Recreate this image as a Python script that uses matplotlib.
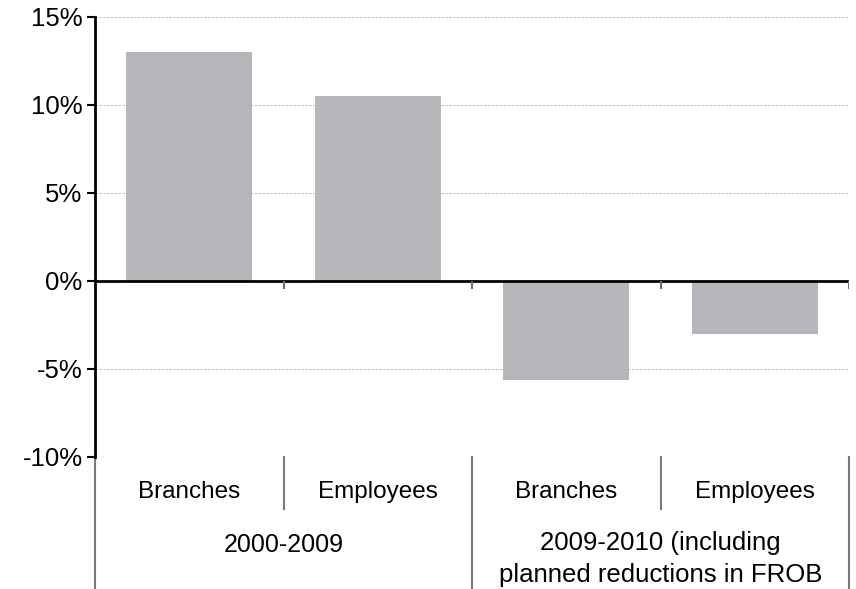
import numpy as np
import matplotlib
matplotlib.use('Agg')
import matplotlib.pyplot as plt
import matplotlib.transforms as mtransforms

plt.rcParams['font.family'] = ['Liberation Sans', 'DejaVu Sans']

# change in branches / employees
categories = ['Branches', 'Employees', 'Branches', 'Employees']
changes = [13.0, 10.5, -5.6, -3.0]
groups = ['2000-2009', '2009-2010 (including\nplanned reductions in FROB']
yticks = [-10, -5, 0, 5, 10, 15]

W, H = 856, 589
fig = plt.figure(figsize=(W / 100, H / 100), dpi=100)
ax = fig.add_axes([95 / W, 1 - 457 / H, (849 - 95) / W, (457 - 17) / H])

x = np.arange(len(categories))
ax.bar(x, changes, width=0.67, color='#b5b6b9', zorder=2)
ax.set_xlim(-0.5, len(categories) - 0.5)
ax.set_ylim(-10, 15)

ax.set_yticks(yticks)
ax.set_yticklabels(['%d%%' % t for t in yticks], fontsize=18.5)
ax.tick_params(axis='y', length=6, width=1.5, color='black', pad=3)
ax.set_xticks([])
ax.grid(axis='y', color='#c0c0c0', linestyle=(0, (2, 1.5)), linewidth=0.8, zorder=0)

for s in ['top', 'right', 'bottom']:
    ax.spines[s].set_visible(False)
ax.spines['left'].set_linewidth(2)
ax.spines['left'].set_zorder(4)

# zero line with little ticks at the category boundaries
ax.axhline(0, color='black', linewidth=2, zorder=3)
bounds = np.arange(len(categories)) + 0.5
ax.vlines(bounds, -0.45, 0, color='#707070', linewidth=1.5, zorder=3)

# category table under the plot
trans = mtransforms.blended_transform_factory(ax.transData, ax.transAxes)
h = (457 - 17)
bottom = -(H - 457) / h
inner = -(509 - 457) / h
edges = [-0.5, 0.5, 1.5, 2.5, 3.5]
for i, e in enumerate(edges):
    y0 = bottom if i % 2 == 0 else inner
    ax.plot([e, e], [0, y0], color='#7a7a7a', linewidth=1.5,
            transform=trans, clip_on=False)

for xi, c in zip(x, categories):
    ax.text(xi, -(492 - 457) / h, c, transform=trans, ha='center',
            va='center', fontsize=17.5)

ax.text(0.5, -(545 - 457) / h, groups[0], transform=trans,
        ha='center', va='center', fontsize=18)
ax.text(2.5, -(531 - 457) / h, groups[1], transform=trans,
        ha='center', va='top', fontsize=18.5, linespacing=1.42)

fig.savefig('out.png', dpi=100)
